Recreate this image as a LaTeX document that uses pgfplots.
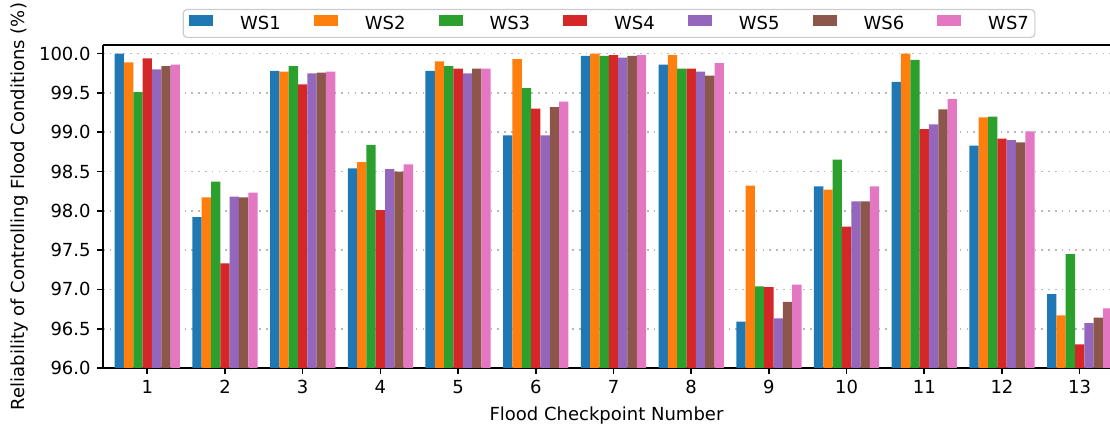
\documentclass[border=0pt]{standalone}
\usepackage{fontspec}
\setmainfont{DejaVu Sans}
\usepackage{pgfplots}
\usepackage{pgfplotstable}
\pgfplotsset{compat=1.18}
\definecolor{c1}{HTML}{1F77B4}
\definecolor{c2}{HTML}{FF7F0E}
\definecolor{c3}{HTML}{2CA02C}
\definecolor{c4}{HTML}{D62728}
\definecolor{c5}{HTML}{9467BD}
\definecolor{c6}{HTML}{8C564B}
\definecolor{c7}{HTML}{E377C2}
\pgfplotstableread{
x ws1 ws2 ws3 ws4 ws5 ws6 ws7
1 100.00 99.89 99.51 99.94 99.80 99.84 99.86
2 97.92 98.17 98.37 97.33 98.18 98.17 98.23
3 99.78 99.77 99.84 99.61 99.75 99.76 99.77
4 98.54 98.62 98.84 98.01 98.53 98.50 98.59
5 99.78 99.90 99.84 99.81 99.75 99.81 99.81
6 98.96 99.93 99.56 99.30 98.96 99.32 99.39
7 99.97 100.00 99.97 99.98 99.95 99.97 99.98
8 99.86 99.98 99.81 99.81 99.77 99.72 99.88
9 96.59 98.32 97.04 97.03 96.63 96.84 97.06
10 98.31 98.27 98.65 97.80 98.12 98.12 98.31
11 99.64 100.00 99.92 99.04 99.10 99.29 99.42
12 98.83 99.19 99.20 98.92 98.90 98.87 99.01
13 96.94 96.67 97.45 96.30 96.57 96.64 96.76
}\datatable
\begin{document}
\fontsize{9pt}{11pt}\selectfont
\begin{tikzpicture}
\begin{axis}[name=ax,
  width=503.5pt, height=161.5pt, scale only axis,
  xmin=0.43, xmax=13.39, ymin=96, ymax=100.11,
  ybar=0pt, bar width=0.12,
  xtick={1,...,13}, ytick={96,96.5,...,100},
  /pgf/number format/assume math mode=true,
  yticklabel style={/pgf/number format/.cd, fixed, fixed zerofill, precision=1, assume math mode=true},
  xticklabel style={/pgf/number format/assume math mode=true},
  ymajorgrids, grid style={gray!55, line width=0.8pt, dash pattern=on 0.8pt off 2.6pt},
  axis x line=box, axis y line=left, axis line style={-, line width=1pt, black},
  xtick pos=bottom, ytick pos=left, tick align=outside, major tick length=3pt,
  tick style={black, line width=0.8pt},
  xlabel={Flood Checkpoint Number},
  ylabel={Reliability of Controlling Flood Conditions (\%)},
  ylabel style={xshift=0pt, yshift=-1pt},
  legend columns=7,
  legend style={at={(0.5025,1)}, anchor=south, yshift=3.5pt, draw=black!20,
    rounded corners=2pt, line width=0.6pt, inner xsep=3pt, inner ysep=2.5pt,
    nodes={inner sep=0pt},
    /tikz/every odd column/.style={column sep=13.5pt},
    /tikz/every even column/.style={column sep=16.5pt}},
  every axis plot post/.append style={legend image code/.code={\fill[##1, sharp corners] (0pt,-0.6pt) rectangle (12pt,4.9pt);}},
]
\addplot[fill=c1, draw=none] table[x=x, y=ws1] {\datatable};
\addplot[fill=c2, draw=none] table[x=x, y=ws2] {\datatable};
\addplot[fill=c3, draw=none] table[x=x, y=ws3] {\datatable};
\addplot[fill=c4, draw=none] table[x=x, y=ws4] {\datatable};
\addplot[fill=c5, draw=none] table[x=x, y=ws5] {\datatable};
\addplot[fill=c6, draw=none] table[x=x, y=ws6] {\datatable};
\addplot[fill=c7, draw=none] table[x=x, y=ws7] {\datatable};
\legend{WS1,WS2,WS3,WS4,WS5,WS6,WS7}
\end{axis}
\pgfresetboundingbox
\path ([xshift=-51.5pt,yshift=-32.5pt]ax.south west) rectangle ([yshift=22.5pt]ax.north east);
\end{tikzpicture}
\end{document}
